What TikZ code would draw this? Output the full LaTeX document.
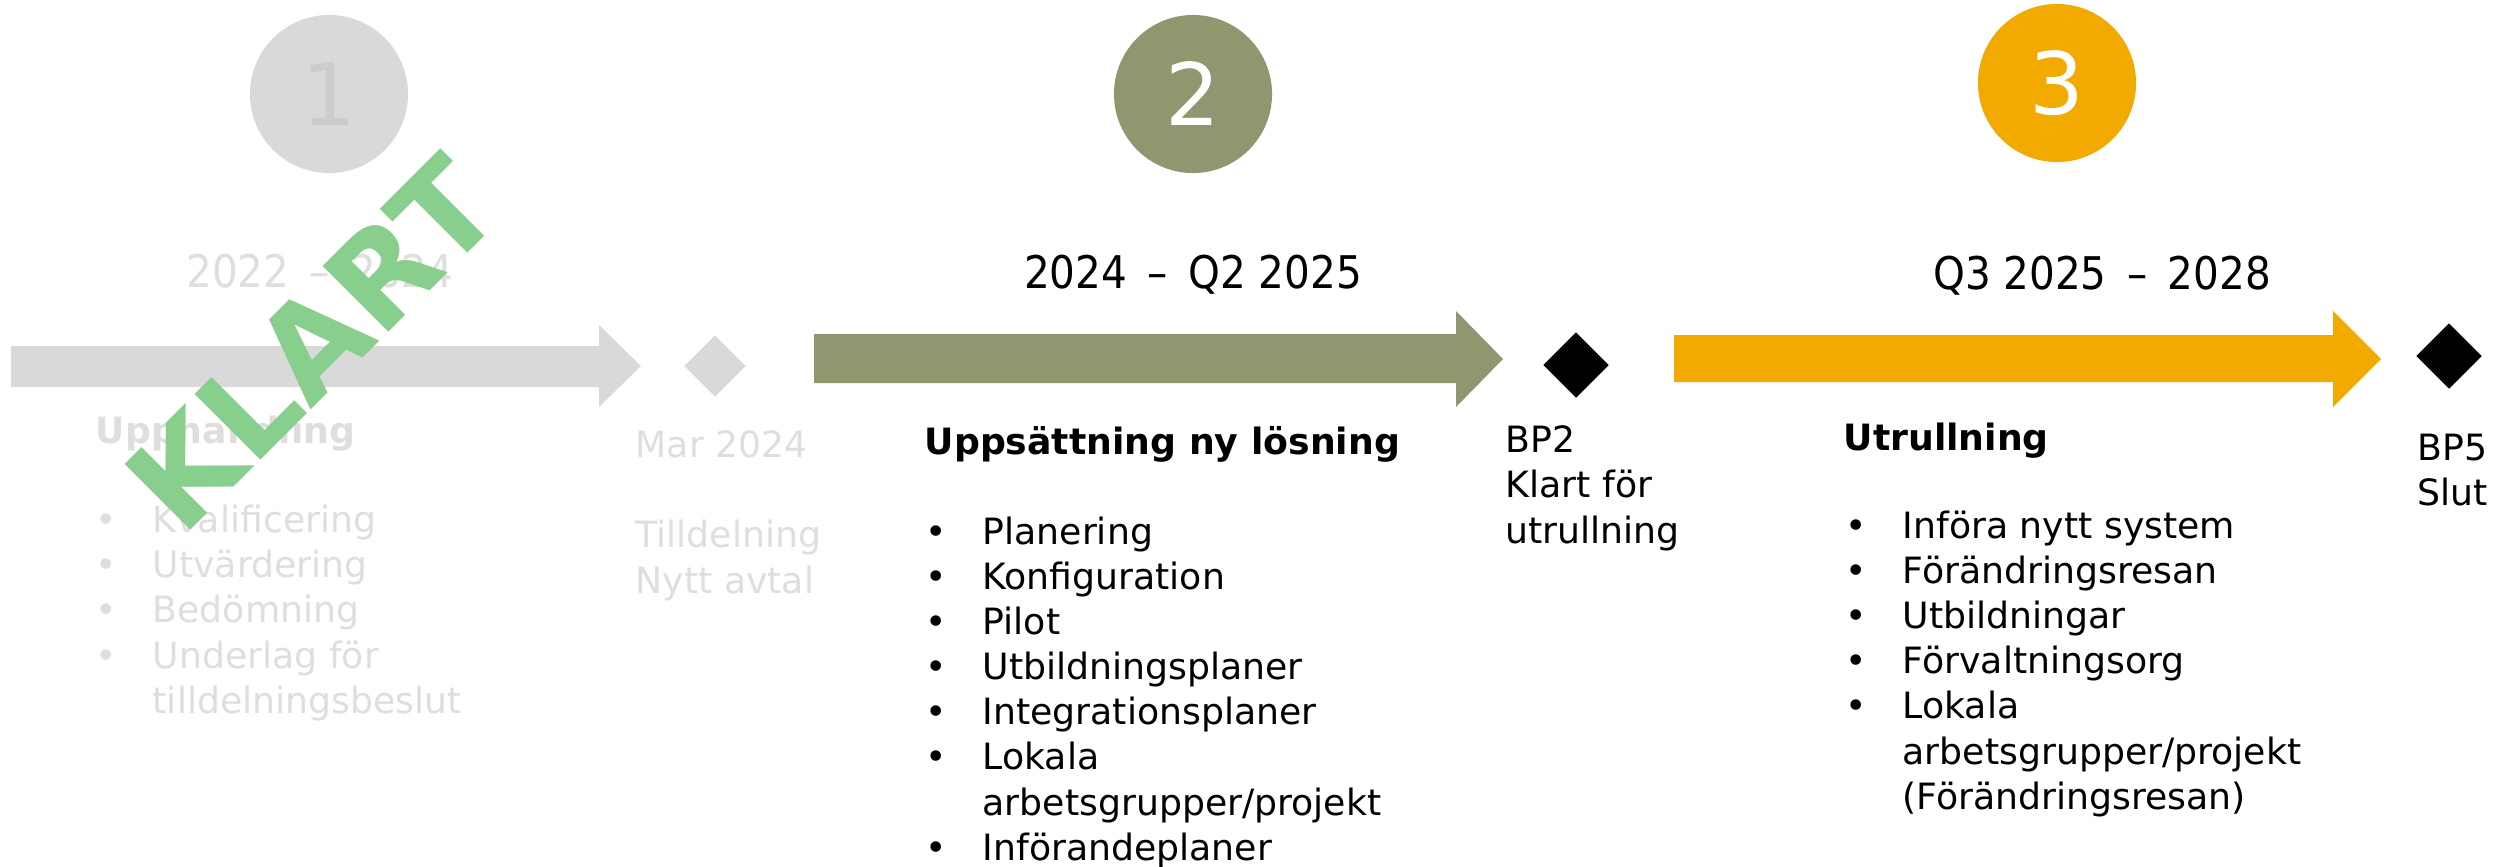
\documentclass[tikz,border=0pt]{standalone}
\usepackage{fontspec}
\setmainfont{DejaVu Sans}
\newfontfamily\datefont{DejaVu Sans}[FakeStretch=0.9]
\usetikzlibrary{shapes.geometric}

\definecolor{fasgra}{RGB}{217,217,217}
\definecolor{gratext}{RGB}{222,222,222}
\definecolor{grasiffra}{RGB}{204,204,204}
\definecolor{oliv}{RGB}{145,150,111}
\definecolor{gul}{RGB}{242,170,0}
\definecolor{klartgron}{RGB}{136,206,140}

\newcommand{\pkt}{\makebox[0.57cm][l]{•}}
\newcommand{\fort}{\hspace*{0.57cm}}

% base west of a multi-line node = baseline of its last line
\tikzset{
  fasnr/.style={circle, minimum size=1.58cm, inner sep=0pt, font=\fontsize{24.5}{29}\selectfont},
  period/.style={anchor=base, inner sep=0pt, font=\datefont\fontsize{12.8}{15}\selectfont},
  milstolpe/.style={diamond, minimum width=0.66cm, minimum height=0.66cm, inner sep=0pt, fill=black},
  brodtext/.style={anchor=base west, inner sep=0pt, align=left, font=\fontsize{10.3}{12.8}\selectfont},
  rubrik/.style={brodtext, font=\fontsize{10.3}{12.8}\selectfont\bfseries}
}

\begin{document}
\begin{tikzpicture}[x=0.01cm, y=-0.01cm]
\useasboundingbox (0,0) rectangle (2502,866);

% fas 1 (klar)
\node[fasnr, fill=fasgra, text=grasiffra] (fas1) at (329,94) {1};
\node[period, text=gratext] (datum1) at (320,287) {2022 \,–\, 2024};
\fill[fasgra] (11,346) -- (599,346) -- (599,325) -- (641,366) -- (599,407) -- (599,387) -- (11,387) -- cycle;
\node[milstolpe, fill=fasgra, minimum width=0.62cm, minimum height=0.62cm] (mars) at (715,366) {};
\node[rubrik, text=gratext] (upph) at (95,443) {Upphandling};
\node[brodtext, text=gratext] (upphlista) at (95,713)
  {\pkt Kvalificering\\ \pkt Utvärdering\\ \pkt Bedömning\\ \pkt Underlag för\\ \fort tilldelningsbeslut};
\node[brodtext, text=gratext] (marstext) at (635,593) {Mar 2024\\[0.45cm]Tilldelning\\Nytt avtal};

% fas 2
\node[fasnr, fill=oliv, text=white] (fas2) at (1193,94) {2};
\node[period] (datum2) at (1193,288) {2024 \,–\, Q2 2025};
\fill[oliv] (814,334) -- (1456,334) -- (1456,311) -- (1503,359) -- (1456,407) -- (1456,383) -- (814,383) -- cycle;
\node[milstolpe] (bp2) at (1576,365) {};
\node[rubrik] (uppsatt) at (924,454) {Uppsättning ny lösning};
\node[brodtext] (uppsattlista) at (925,860)
  {\pkt Planering\\ \pkt Konfiguration\\ \pkt Pilot\\ \pkt Utbildningsplaner\\ \pkt Integrationsplaner\\
   \pkt Lokala\\ \fort arbetsgrupper/projekt\\ \pkt Införandeplaner};
\node[brodtext] (bp2text) at (1505,543) {BP2\\Klart för\\utrullning};

% fas 3
\node[fasnr, fill=gul, text=white] (fas3) at (2057,83) {3};
\node[period] (datum3) at (2102,289) {Q3 2025 \,–\, 2028};
\fill[gul] (1674,335) -- (2333,335) -- (2333,311) -- (2381,359) -- (2333,407) -- (2333,382) -- (1674,382) -- cycle;
\node[milstolpe] (bp5) at (2449,356) {};
\node[rubrik] (utrull) at (1843,450) {Utrullning};
\node[brodtext] (utrulllista) at (1845,809)
  {\pkt Införa nytt system\\ \pkt Förändringsresan\\ \pkt Utbildningar\\ \pkt Förvaltningsorg\\
   \pkt Lokala\\ \fort arbetsgrupper/projekt\\ \fort (Förändringsresan)};
\node[brodtext] (bp5text) at (2417,505) {BP5\\Slut};

% stämpel
\node[rotate=45, inner sep=0pt, text=klartgron, font=\fontsize{36.3}{40}\selectfont\bfseries] (klart) at (312,343) {KLART};
\end{tikzpicture}
\end{document}
